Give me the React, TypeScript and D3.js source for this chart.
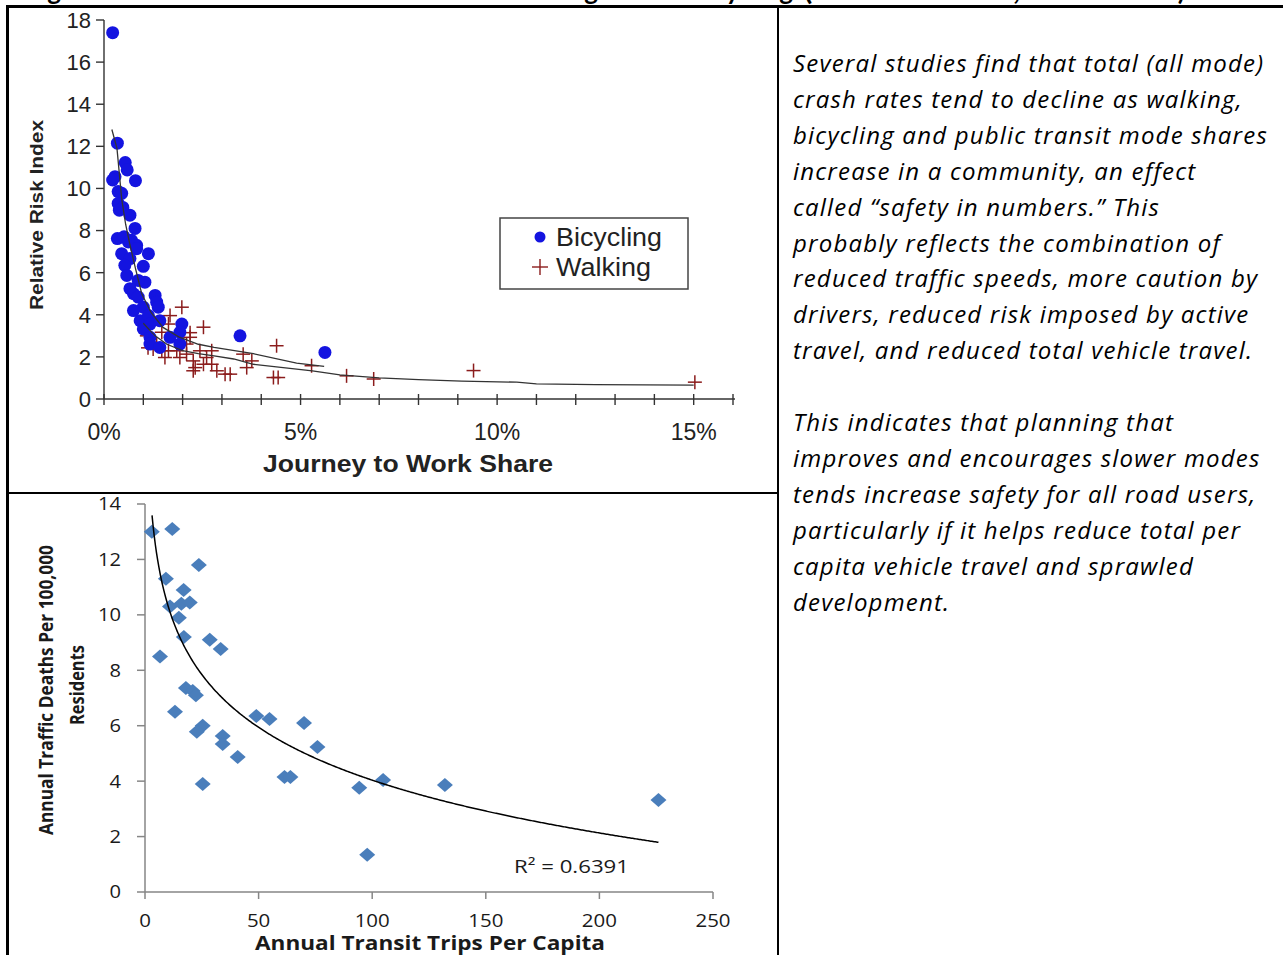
import React from "react";
import * as d3 from "d3";

// ---------- Top chart data ----------
const bicyclingPts: [number, number][] = [
  [0.22, 17.4], [0.34, 12.15], [0.28, 10.56], [0.22, 10.4], [0.54, 11.23], [0.59, 10.88], [0.8, 10.37],
  [0.36, 9.85], [0.45, 9.77], [0.36, 9.29], [0.48, 9.1], [0.39, 8.97], [0.66, 8.73], [0.79, 8.1],
  [0.34, 7.62], [0.51, 7.7], [0.7, 7.54], [0.83, 7.3], [0.62, 7.46], [0.83, 7.14], [1.13, 6.9],
  [0.45, 6.9], [0.66, 6.67], [0.53, 6.35], [1.0, 6.3], [0.58, 5.87], [1.04, 5.55], [0.87, 5.63],
  [0.66, 5.24], [0.75, 5.0], [0.87, 4.84], [1.3, 4.92], [1.34, 4.6], [1.0, 4.36], [0.75, 4.2],
  [1.38, 4.36], [0.92, 3.72], [1.13, 3.96], [1.17, 3.56], [1.42, 3.72], [1.98, 3.56], [1.93, 3.17],
  [1.0, 3.33], [1.17, 2.93], [1.68, 2.93], [1.17, 2.61], [1.93, 2.61], [1.42, 2.45], [3.46, 3.0],
  [5.62, 2.21],
];
const walkingPts: [number, number][] = [
  [1.98, 4.36], [2.53, 3.41], [1.68, 3.96], [1.64, 3.56], [1.47, 3.17], [1.09, 3.0], [1.34, 2.61],
  [1.47, 2.29], [1.55, 1.97], [1.25, 2.37], [1.64, 2.29], [1.85, 2.29], [1.93, 1.97], [2.1, 2.13],
  [2.27, 1.81], [2.32, 1.49], [2.19, 2.93], [2.1, 2.61], [2.44, 2.29], [2.61, 1.97], [2.74, 2.29],
  [2.53, 1.65], [2.74, 1.65], [2.87, 1.34], [3.08, 1.18], [3.21, 1.18], [3.54, 2.13], [3.63, 1.49],
  [3.76, 1.81], [4.39, 2.53], [4.31, 1.02], [4.43, 1.02], [5.28, 1.58], [6.17, 1.1], [6.86, 0.95],
  [9.4, 1.35], [15.03, 0.8], [2.19, 3.15], [1.12, 2.43], [2.27, 1.34],
];
const bicyclingCurve: [number, number][] = [
  [0.2, 12.8], [0.33, 11.9], [0.45, 9.5], [0.55, 8.3], [0.65, 7.4], [0.8, 6.2], [0.96, 5.0],
  [1.2, 4.1], [1.5, 3.4], [1.9, 2.95], [2.4, 2.6], [2.8, 2.45], [3.8, 2.15], [4.9, 1.7], [5.6, 1.55],
];
const walkingCurve: [number, number][] = [
  [1.0, 3.6], [1.3, 3.0], [1.6, 2.6], [2.0, 2.3], [2.4, 2.15], [2.8, 2.05], [3.3, 1.9], [3.8, 1.65],
  [4.5, 1.5], [5.3, 1.34], [6.0, 1.15], [7.0, 1.0], [8.0, 0.92], [9.1, 0.85], [10.5, 0.8], [11.0, 0.72],
  [12.5, 0.68], [15.0, 0.66],
];
const topYTicks = [0, 2, 4, 6, 8, 10, 12, 14, 16, 18];
const topXMinorTicks = [0, 1, 2, 3, 4, 5, 6, 7, 8, 9, 10, 11, 12, 13, 14, 15, 16];
const topXLabels = [0, 5, 10, 15];

// ---------- Bottom chart data ----------
const transitTrips = [3, 12, 23.7, 9.2, 17, 11, 16, 19.7, 14.9, 17.1, 28.5, 33.3, 6.6, 18, 21, 22.4, 13.2,
  25.4, 22.8, 34.2, 34.2, 40.8, 25.4, 49, 54.8, 70, 75.9, 61.4, 64, 94.3, 97.8, 104.8, 132, 226];
const trafficDeaths = [13.0, 13.1, 11.8, 11.3, 10.9, 10.3, 10.4, 10.45, 9.9, 9.2, 9.1, 8.77, 8.5, 7.36, 7.25,
  7.1, 6.5, 6.0, 5.78, 5.63, 5.34, 4.87, 3.9, 6.35, 6.24, 6.1, 5.23, 4.15, 4.15, 3.76, 1.34, 4.04, 3.86, 3.32];
const bottomYTicks = [0, 2, 4, 6, 8, 10, 12, 14];
const bottomXTicks = [0, 50, 100, 150, 200, 250];
const trendA = -2.75; // logarithmic trendline y = A ln(x) + B
const trendB = 16.7;
const trendRange: [number, number] = [3.1, 226];
const rSquared = "R² = 0.6391";

const textLines1 = [
  "Several studies find that total (all mode)",
  "crash rates tend to decline as walking,",
  "bicycling and public transit mode shares",
  "increase in a community, an effect",
  "called “safety in numbers.” This",
  "probably reflects the combination of",
  "reduced traffic speeds, more caution by",
  "drivers, reduced risk imposed by active",
  "travel, and reduced total vehicle travel.",
];
const textLines2 = [
  "This indicates that planning that",
  "improves and encourages slower modes",
  "tends increase safety for all road users,",
  "particularly if it helps reduce total per",
  "capita vehicle travel and sprawled",
  "development.",
];

export default function App() {
  const xs = d3.scaleLinear().domain([0, 16]).range([104, 733]);
  const ys = d3.scaleLinear().domain([0, 18]).range([399, 20]);
  const bx = d3.scaleLinear().domain([0, 250]).range([145, 713]);
  const by = d3.scaleLinear().domain([0, 14]).range([892, 504]);

  const topLine = d3.line<[number, number]>().x((d) => xs(d[0])).y((d) => ys(d[1]));
  const trendPts: [number, number][] = d3
    .range(trendRange[0], trendRange[1], 0.5)
    .concat([trendRange[1]])
    .map((x) => [x, trendA * Math.log(x) + trendB]);
  const trendLine = d3.line<[number, number]>().x((d) => bx(d[0])).y((d) => by(d[1]));

  const arial = "'Liberation Sans', Arial, sans-serif";
  const calibri = "'Open Sans', sans-serif";
  const topAxis = "#333";
  const grayAxis = "#868686";
  const blue = "#1414e0";
  const red = "#8b1c1c";
  const diamond = "#4a7ebb";

  const plus = (cx: number, cy: number, s: number, k: string, color: string, w = 1.5) => (
    <g key={k} stroke={color} strokeWidth={w}>
      <line x1={cx - s} x2={cx + s} y1={cy} y2={cy} />
      <line x1={cx} x2={cx} y1={cy - s} y2={cy + s} />
    </g>
  );

  return (
    <svg
      width={1283}
      height={955}
      style={{ position: "absolute", left: 0, top: 0, background: "#fff" }}
      xmlns="http://www.w3.org/2000/svg"
    >
      <rect x={0} y={0} width={1283} height={955} fill="#fff" />
      {/* clipped title: only descenders visible */}
      <g fontFamily="Lato, sans-serif" fontWeight="bold" fontSize={26} fill="#000">
        <text x={26} y={0}>Figure 6</text>
        <text x={598} y={0} textAnchor="end">Traffic Risk Versus Walking</text>
        <text x={660} y={0}>and Cycling</text>
        <text x={804} y={0} textLength={216} lengthAdjust="spacingAndGlyphs">(Jacobsen 2003,</text>
        <text x={1185} y={0} textAnchor="end">Litman 2012)</text>
      </g>

      {/* frame */}
      <rect x={6} y={5} width={1277} height={3} fill="#000" />
      <rect x={6} y={5} width={3} height={950} fill="#000" />
      <rect x={777} y={7} width={2} height={948} fill="#000" />
      <rect x={8} y={492} width={770} height={2} fill="#000" />

      {/* ---------- Top chart ---------- */}
      <g>
        <line x1={xs(0)} x2={xs(0)} y1={ys(0)} y2={ys(18)} stroke={topAxis} strokeWidth={1.4} />
        <line x1={xs(0)} x2={xs(16) + 2} y1={ys(0)} y2={ys(0)} stroke={topAxis} strokeWidth={1.4} />
        {topYTicks.map((v) => (
          <g key={"yt" + v}>
            <line x1={xs(0) - 8} x2={xs(0)} y1={ys(v)} y2={ys(v)} stroke={topAxis} strokeWidth={1.4} />
            <text x={91} y={ys(v)} dy="0.36em" textAnchor="end" fontFamily={arial} fontSize={22} fill="#222">
              {v}
            </text>
          </g>
        ))}
        {topXMinorTicks.map((v) => (
          <line key={"xt" + v} x1={xs(v)} x2={xs(v)} y1={ys(0) - 5} y2={ys(0) + 6} stroke={topAxis} strokeWidth={1.4} />
        ))}
        {topXLabels.map((v) => (
          <text key={"xl" + v} x={xs(v)} y={440} textAnchor="middle" fontFamily={arial} fontSize={23} fill="#222">
            {v}%
          </text>
        ))}
        <text x={408} y={472} textAnchor="middle" fontFamily={arial} fontWeight="bold" fontSize={24} fill="#222"
          textLength={290} lengthAdjust="spacingAndGlyphs">
          Journey to Work Share
        </text>
        <text
          x={43}
          y={215}
          transform="rotate(-90 43 215)"
          textAnchor="middle"
          fontFamily={arial}
          fontWeight="bold"
          fontSize={19}
          fill="#222"
          textLength={190}
          lengthAdjust="spacingAndGlyphs"
        >
          Relative Risk Index
        </text>

        {walkingPts.map((d, i) => plus(xs(d[0]), ys(d[1]), 7, "w" + i, red))}
        {bicyclingPts.map((d, i) => (
          <circle key={"b" + i} cx={xs(d[0])} cy={ys(d[1])} r={6.5} fill={blue} />
        ))}
        <path d={topLine(bicyclingCurve) || ""} fill="none" stroke="#333" strokeWidth={1.3} />
        <path d={topLine(walkingCurve) || ""} fill="none" stroke="#333" strokeWidth={1.3} />

        {/* legend */}
        <rect x={500} y={218} width={188} height={71} fill="#fff" stroke="#444" strokeWidth={1.5} />
        <circle cx={540} cy={237} r={5.5} fill={blue} />
        <text x={556} y={246} fontFamily={arial} fontSize={25} fill="#222" textLength={106}
          lengthAdjust="spacingAndGlyphs">Bicycling</text>
        {plus(540, 267, 8, "legw", red, 1.4)}
        <text x={556} y={276} fontFamily={arial} fontSize={25} fill="#222" textLength={95}
          lengthAdjust="spacingAndGlyphs">Walking</text>
      </g>

      {/* ---------- Bottom chart ---------- */}
      <g>
        <line x1={bx(0)} x2={bx(0)} y1={by(0)} y2={by(14)} stroke={grayAxis} strokeWidth={1.5} />
        <line x1={bx(0)} x2={bx(250)} y1={by(0)} y2={by(0)} stroke={grayAxis} strokeWidth={1.5} />
        {bottomYTicks.map((v) => (
          <g key={"byt" + v}>
            <line x1={bx(0) - 8} x2={bx(0)} y1={by(v)} y2={by(v)} stroke={grayAxis} strokeWidth={1.5} />
            <text x={121} y={by(v)} dy="0.36em" textAnchor="end" fontFamily={calibri} fontSize={18} fill="#1a1a1a"
              textLength={String(v).length * 11.5} lengthAdjust="spacingAndGlyphs">
              {v}
            </text>
          </g>
        ))}
        {bottomXTicks.map((v) => (
          <g key={"bxt" + v}>
            <line x1={bx(v)} x2={bx(v)} y1={by(0)} y2={by(0) + 7} stroke={grayAxis} strokeWidth={1.5} />
            <text x={bx(v)} y={927} textAnchor="middle" fontFamily={calibri} fontSize={18} fill="#1a1a1a"
              textLength={String(v).length * 11.7} lengthAdjust="spacingAndGlyphs">
              {v}
            </text>
          </g>
        ))}
        <text x={430} y={950} textAnchor="middle" fontFamily={calibri} fontWeight="bold" fontSize={19} fill="#1a1a1a"
          textLength={350} lengthAdjust="spacingAndGlyphs">
          Annual Transit Trips Per Capita
        </text>
        <text x={53} y={690} transform="rotate(-90 53 690)" textAnchor="middle" fontFamily={calibri}
          fontWeight="bold" fontSize={19} fill="#1a1a1a" textLength={290} lengthAdjust="spacingAndGlyphs">
          Annual Traffic Deaths Per 100,000
        </text>
        <text x={84} y={685} transform="rotate(-90 84 685)" textAnchor="middle" fontFamily={calibri}
          fontWeight="bold" fontSize={19} fill="#1a1a1a" textLength={80} lengthAdjust="spacingAndGlyphs">
          Residents
        </text>

        {transitTrips.map((x, i) => (
          <path
            key={"d" + i}
            transform={`translate(${bx(x)},${by(trafficDeaths[i])})`}
            d="M0,-7L8,0L0,7L-8,0Z"
            fill={diamond}
          />
        ))}
        <path d={trendLine(trendPts) || ""} fill="none" stroke="#000" strokeWidth={1.5} />
        <text x={514} y={873} fontFamily={calibri} fontSize={18} fill="#1a1a1a" textLength={115}
          lengthAdjust="spacingAndGlyphs">
          {rSquared}
        </text>
      </g>

      {/* ---------- Right text ---------- */}
      <g fontFamily="'Open Sans', sans-serif" fontStyle="italic" fontSize={24} letterSpacing={1.2} fill="#000">
        {textLines1.map((t, i) => (
          <text key={"t1" + i} x={793} y={72 + i * 35.9}>{t}</text>
        ))}
        {textLines2.map((t, i) => (
          <text key={"t2" + i} x={793} y={72 + (i + 10) * 35.9}>{t}</text>
        ))}
      </g>
    </svg>
  );
}
